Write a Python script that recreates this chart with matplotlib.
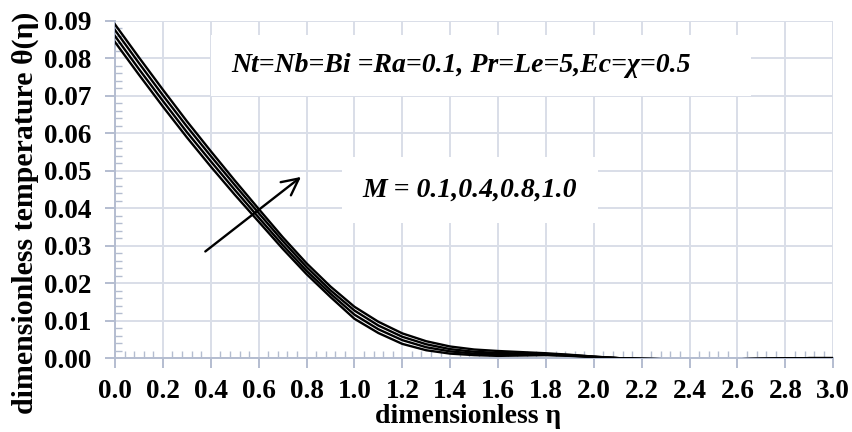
import matplotlib
matplotlib.use('Agg')
import matplotlib.pyplot as plt
import numpy as np
from matplotlib.patches import Rectangle
from matplotlib.ticker import MultipleLocator

# eta grid (0.1 step) and theta(eta) for M = 0.1, 0.4, 0.8, 1.0
eta = [0.0, 0.1, 0.2, 0.3, 0.4, 0.5, 0.6, 0.7, 0.8, 0.9, 1.0,
       1.1, 1.2, 1.3, 1.4, 1.5, 1.6, 1.7, 1.8, 1.9, 2.0,
       2.1, 2.2, 2.3, 2.4, 2.5, 2.6, 2.7, 2.8, 2.9, 3.0]
theta_m01 = [0.0843, 0.0756, 0.0671, 0.0589, 0.0511, 0.0436, 0.0364, 0.0292, 0.0224, 0.0163, 0.0105,
             0.0067, 0.0038, 0.0021, 0.0012, 0.0008, 0.0006, 0.0007, 0.0008, 0.0006, 0.0003,
             0.0000, -0.0002, -0.0003, -0.0003, -0.0003, -0.0003, -0.0002, -0.0001, 0.0000, 0.0000]
theta_m04 = [0.0859, 0.0771, 0.0686, 0.0603, 0.0525, 0.0449, 0.0375, 0.0302, 0.0233, 0.0172, 0.0116,
             0.0077, 0.0048, 0.0029, 0.0018, 0.0012, 0.0010, 0.0009, 0.0009, 0.0007, 0.0003,
             0.0000, -0.0002, -0.0003, -0.0003, -0.0003, -0.0003, -0.0002, -0.0001, 0.0000, 0.0000]
theta_m08 = [0.0875, 0.0787, 0.0701, 0.0618, 0.0539, 0.0462, 0.0387, 0.0313, 0.0243, 0.0181, 0.0127,
             0.0087, 0.0057, 0.0037, 0.0024, 0.0017, 0.0014, 0.0012, 0.0011, 0.0008, 0.0004,
             0.0000, -0.0002, -0.0003, -0.0003, -0.0003, -0.0003, -0.0002, -0.0001, 0.0000, 0.0000]
theta_m10 = [0.0890, 0.0802, 0.0716, 0.0632, 0.0552, 0.0474, 0.0398, 0.0323, 0.0253, 0.0191, 0.0137,
             0.0097, 0.0066, 0.0045, 0.0031, 0.0023, 0.0019, 0.0016, 0.0013, 0.0009, 0.0004,
             0.0000, -0.0002, -0.0003, -0.0003, -0.0003, -0.0003, -0.0002, -0.0001, 0.0000, 0.0000]
curves = [theta_m01, theta_m04, theta_m08, theta_m10]

params_text = 'Nt=Nb=Bi =Ra=0.1, Pr=Le=5,Ec=χ=0.5'
m_text = 'M = 0.1,0.4,0.8,1.0'

plt.rcParams['font.family'] = ['Liberation Serif', 'DejaVu Serif']
axis_col = '#b4bdd0'
grid_col = '#d9dee8'

fig = plt.figure(figsize=(8.52, 4.32), dpi=100)
ax = fig.add_axes([0.135, 0.171, 0.843, 0.781])

for c in curves:
    ax.plot(eta, c, color='black', lw=1.7, zorder=3)

ax.set_xlim(0, 3.0)
ax.set_ylim(0, 0.09)
ax.xaxis.set_minor_locator(MultipleLocator(0.04))
ax.yaxis.set_minor_locator(MultipleLocator(0.002))
ax.set_xticks(np.arange(0, 3.01, 0.2))
ax.set_xticklabels(['%.1f' % v for v in np.arange(0, 3.01, 0.2)])
ax.set_yticks(np.arange(0, 0.091, 0.01))
ax.set_yticklabels(['%.2f' % v for v in np.arange(0, 0.091, 0.01)])
ax.grid(True, which='major', color=grid_col, lw=1.4)

for s in ['top', 'right']:
    ax.spines[s].set_visible(False)
for s in ['left', 'bottom']:
    ax.spines[s].set_color(axis_col)
    ax.spines[s].set_linewidth(1.4)
ax.tick_params(which='major', direction='out', length=7, width=1.4, color=axis_col, labelsize=19.5)
ax.tick_params(which='minor', direction='in', length=5, width=1.0, color=axis_col)
ax.tick_params(axis='x', pad=8)
ax.tick_params(axis='y', pad=10)
for lab in ax.get_xticklabels() + ax.get_yticklabels():
    lab.set_fontweight('bold')

ax.set_xlabel('dimensionless η', fontsize=20, fontweight='bold')
ax.set_ylabel('dimensionless temperature θ(η)', fontsize=21.5, fontweight='bold')
ax.xaxis.set_label_coords(0.492, -0.135)
ax.yaxis.set_label_coords(-0.106, 0.43)

# white boxes hiding the grid behind the annotations
ax.add_patch(Rectangle((0.40, 0.0699), 2.255, 0.0162, facecolor='white', edgecolor='none', zorder=2))
ax.text(0.482, 0.867, params_text, transform=ax.transAxes, fontsize=20, fontweight='bold',
        style='italic', ha='center', va='center', zorder=2.5)
ax.text(0.494, 0.498, m_text, transform=ax.transAxes, fontsize=20, fontweight='bold',
        style='italic', ha='center', va='center', zorder=2.5,
        bbox=dict(facecolor='white', edgecolor='none', boxstyle='square,pad=0.75'))

ax.annotate('', xy=(0.786, 0.0488), xytext=(0.368, 0.028),
            arrowprops=dict(arrowstyle='->', color='black', lw=1.7, mutation_scale=30), zorder=4)

fig.savefig('out.png', dpi=100)
